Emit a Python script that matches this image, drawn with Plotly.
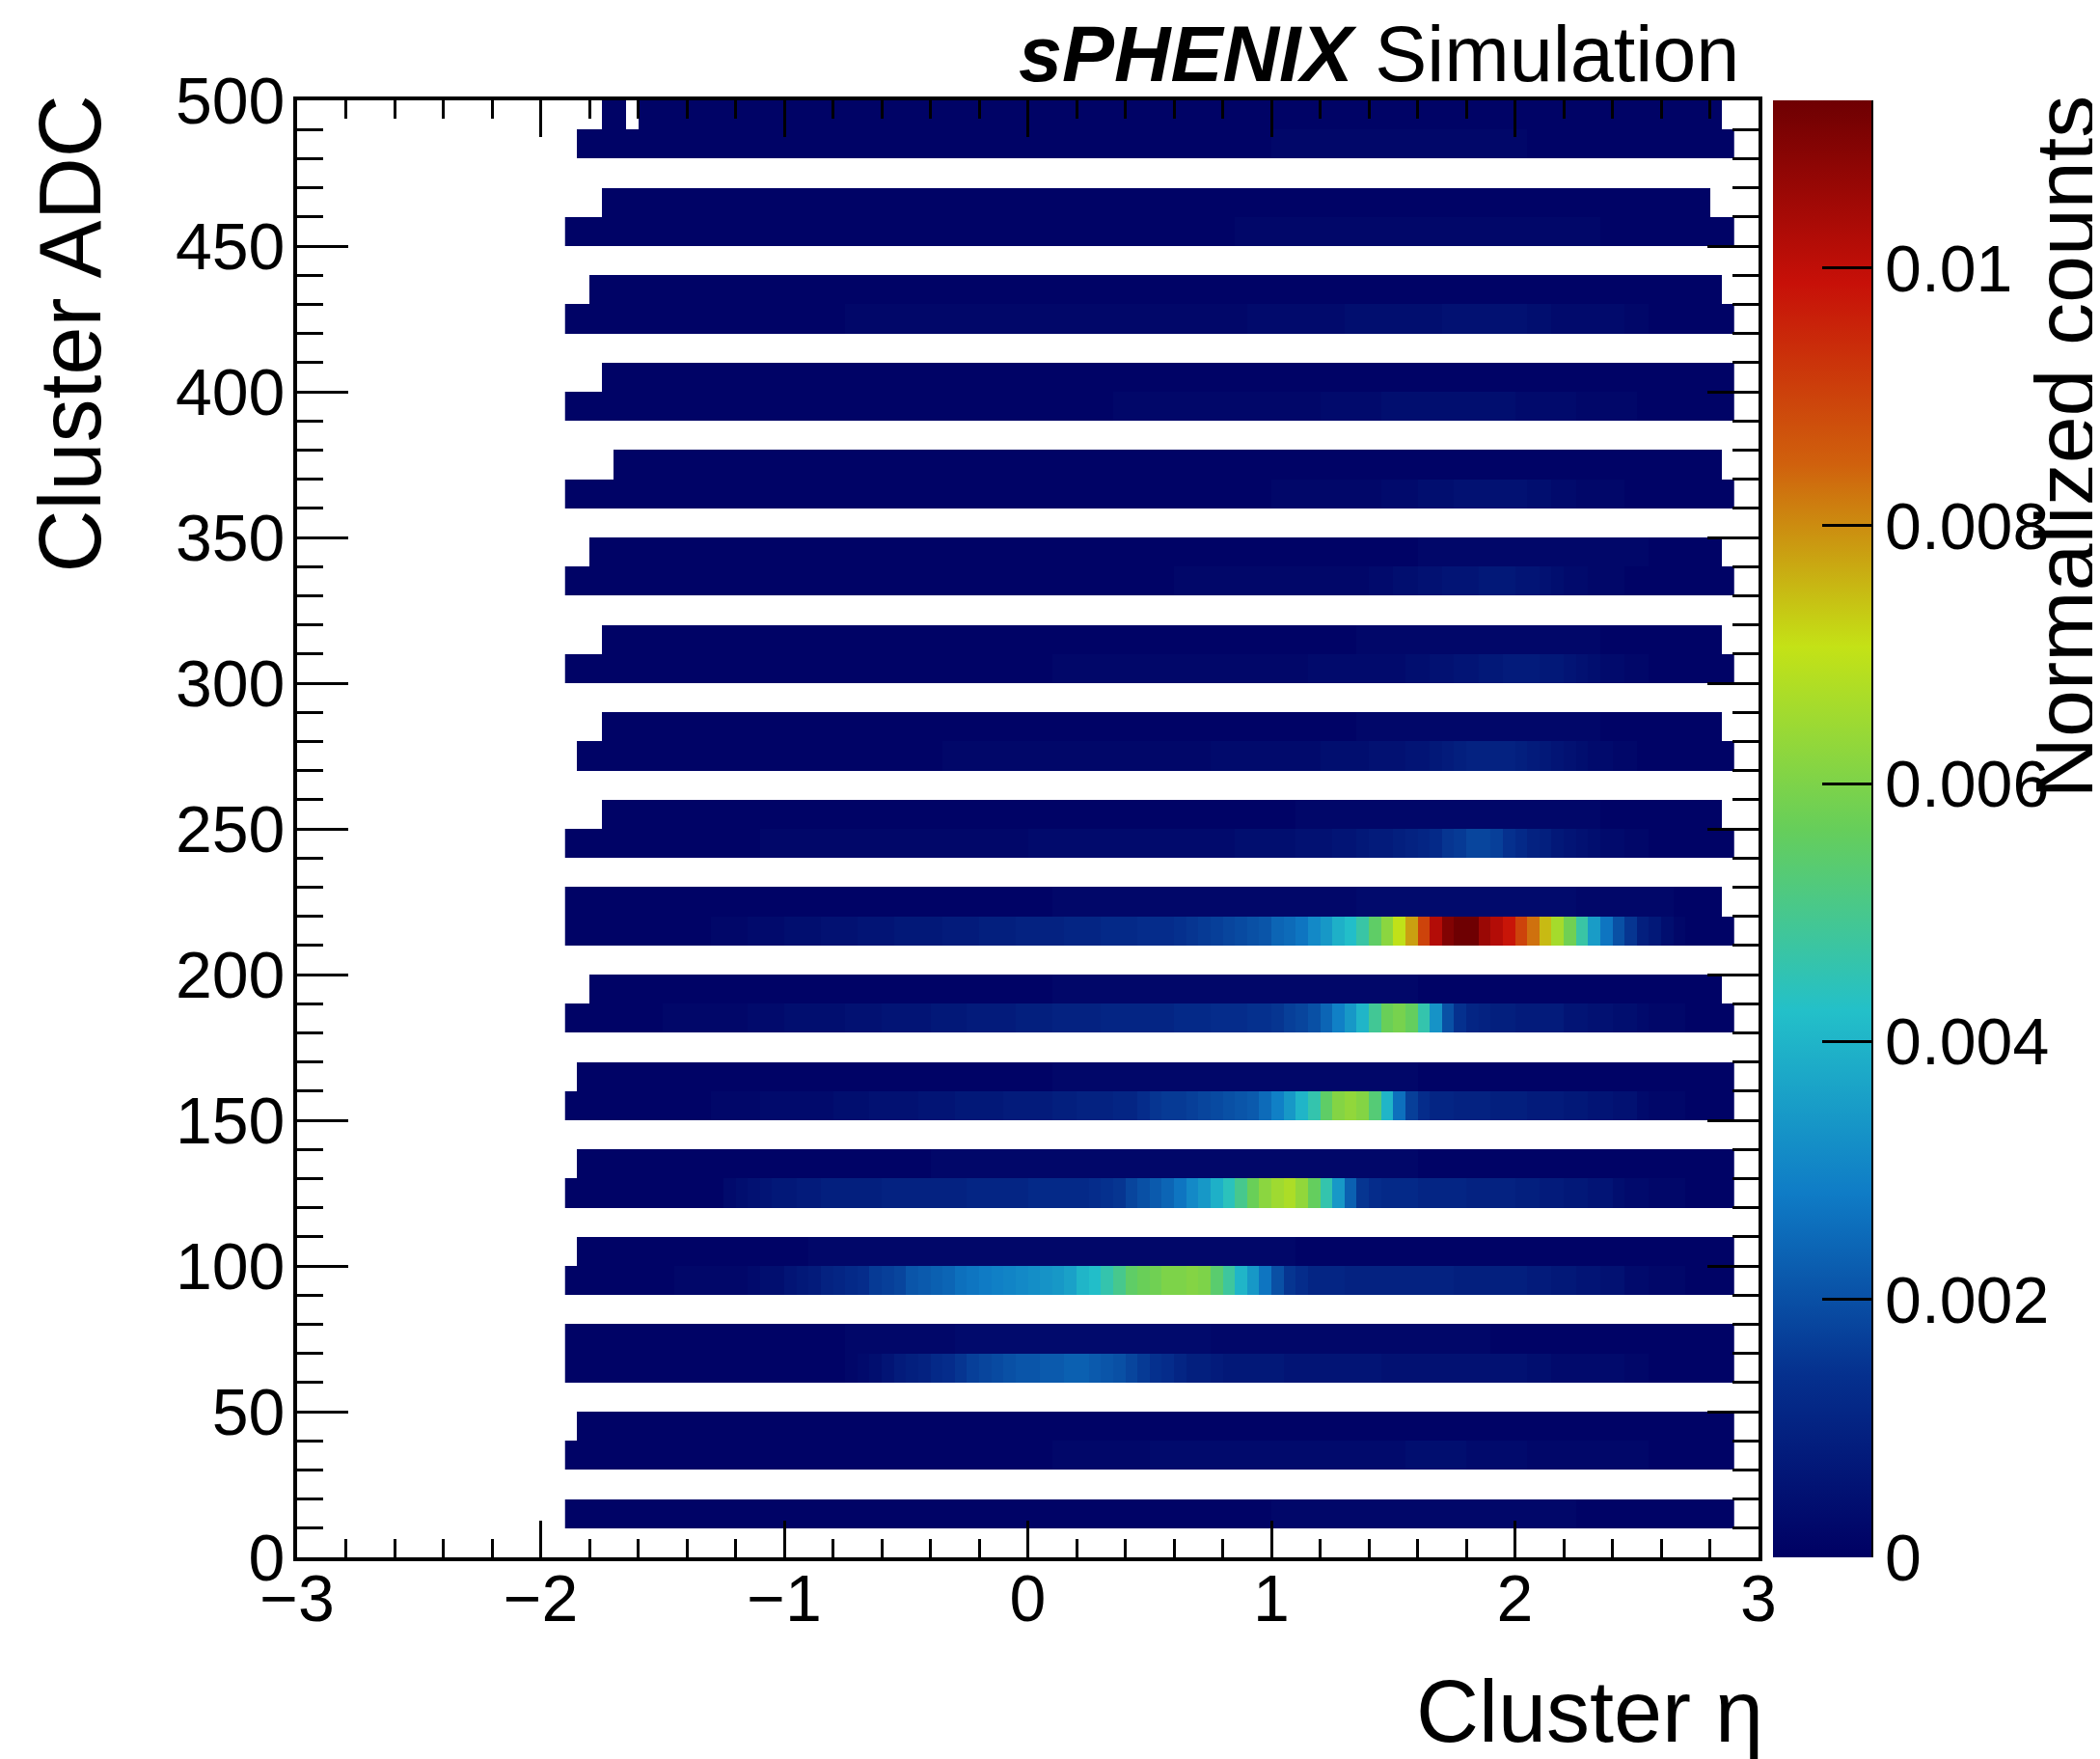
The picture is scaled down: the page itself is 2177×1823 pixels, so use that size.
import plotly.graph_objects as go

# page is rendered with an 8 px body margin: work in page pixels and shift into figure pixels
OFF = 8
PAGE_W, PAGE_H = 2177, 1823
W, H = PAGE_W - OFF, PAGE_H - OFF
L, R, T, B = 308 - OFF, 1823 - OFF, 104 - OFF, 1614 - OFF   # plot-area box in figure pixels

# ---------------- data ----------------
# eta bins: 96 bins of width 0.05 from -1.9 to 2.9 ; ADC bins: 50 bins of width 10 from 0 to 500
eta_lo_edge = -1.9
eta_width = 0.05
n_eta = 96
adc_width = 10
n_adc = 50
eta_centers = [round(eta_lo_edge + eta_width * (i + 0.5), 4) for i in range(n_eta)]
adc_centers = [adc_width * (j + 0.5) for j in range(n_adc)]

# bin contents in units of 1e-4 (normalized counts), index 0 = eta bin [-1.9,-1.85)
r10 = [1]*58 + [2]*25 + [1]*13
r30 = [1]*40 + [2]*8 + [3]*21 + [4]*5 + [3]*5 + [2]*10 + [1]*7
r40 = [1]*96
r60 = ([1]*23 + [2, 3, 4, 6, 8, 9, 10, 12, 13, 15, 17, 18, 19, 20, 21, 21, 22, 22, 23, 23, 22, 21, 20, 18, 16]
       + [14, 13, 11, 9, 9, 8] + [7]*5 + [6]*8 + [5]*12 + [4, 4, 3, 3, 3, 3, 3, 3, 2, 2] + [1]*7)
r70 = [1]*23 + [2]*9 + [3]*21 + [2]*23 + [1]*20
r90 = ([1]*9 + [2]*6 + [3] + [4, 4] + [6, 7, 8] + [10, 11, 12, 13] + [16, 17, 18] + [21, 22, 23, 24]
       + [26, 27, 28, 29] + [30, 31, 32, 33, 34, 36] + [40, 42] + [46, 50] + [55, 57]
       + [58, 60, 60, 61, 60, 54, 48, 40, 34, 27, 20, 15, 13]
       + [11, 11, 11, 10, 10, 10, 10, 10, 10, 10, 10, 10, 9, 9, 9, 9, 9, 9]
       + [8, 8, 7, 7, 6, 6, 5, 5] + [3, 3, 2, 2, 2, 1, 1, 1, 1])
r100 = [1]*20 + [2]*40 + [1]*36
r120 = ([1]*13 + [3, 4, 5] + [6, 7, 7, 8, 8] + [9, 9, 9, 9, 9, 10, 10, 10, 10, 10]
        + [10, 10, 11, 11, 11, 11, 11, 12, 12, 12, 12, 12] + [13, 14, 15] + [18, 20]
        + [22, 24, 27, 31, 34, 39, 44, 50, 57, 62, 65, 67, 63, 56, 46, 34, 23, 15, 13]
        + [12, 12, 12, 11, 11, 11, 11, 10, 10, 10, 10] + [9, 9, 8, 8, 7, 7, 6, 6]
        + [4, 3, 3, 2, 2, 2, 1, 1, 1, 1])
r130 = [1]*30 + [2]*40 + [1]*26
r150 = ([1]*12 + [2, 2, 2, 2, 3, 3, 3, 3, 3, 3] + [4, 4, 4, 5, 5, 5, 5, 6, 6, 6] + [7, 7, 7, 7, 8, 8, 8, 8]
        + [9, 9, 10, 10, 10, 11, 11] + [13]
        + [15, 16, 16, 17, 18, 19, 20, 21]
        + [22, 25, 29, 34, 40, 46, 55, 61, 63, 61, 53, 40, 26, 17, 13]
        + [11, 11, 10, 10, 10] + [9, 9, 9, 8, 8, 8] + [7, 7, 6, 6, 5, 5] + [3, 2, 2, 2, 1, 1, 1, 1])
r160 = [1]*40 + [2]*30 + [1]*26
r180 = ([1]*8 + [2]*7 + [3, 3, 3, 4, 4, 4, 4, 4] + [5, 5, 5, 6, 6, 6, 6] + [7, 7, 7, 8, 8, 8, 8]
        + [9, 9, 9, 10, 10, 10, 10, 11, 11, 11, 11]
        + [11, 11, 12, 12, 12, 13, 13, 13, 14, 14]
        + [15, 17, 18, 20, 24, 29, 34, 40, 49, 57, 59, 56, 46, 33, 20, 14]
        + [11, 10] + [9, 9, 8, 8, 8, 8] + [6, 6, 5, 5, 4, 4] + [3, 2, 2, 2, 1, 1, 1, 1])
r190 = [1]*40 + [2]*30 + [1]*26
r210 = ([1]*12 + [2, 2, 2, 3, 3, 3, 4, 4, 4] + [5, 5, 5, 6, 6, 6, 7, 7, 7, 7]
        + [8, 8, 8, 9, 9, 9, 10, 10, 10, 10] + [11, 11, 11, 12, 12, 12, 13]
        + [13, 13, 14, 15, 16, 17, 18, 19, 20, 21] + [24, 25, 27, 31, 34, 39, 42, 47, 55, 62]
        + [70, 78, 90, 102, 110, 113, 113, 106, 102, 98, 90, 83, 75, 66, 58, 47, 35, 27, 20, 15, 9, 7, 4, 2]
        + [1]*4)
r220 = [1]*40 + [2]*25 + [3]*18 + [2]*8 + [1]*5
r240 = ([1]*16 + [2]*22 + [3]*10
        + [3, 3, 3, 3, 3, 3, 3, 4, 4, 4, 4, 4, 5] + [5, 5, 6, 6, 7, 8, 8] + [9, 10, 11, 12]
        + [15, 16, 18, 18, 17] + [14, 12, 10, 9, 7] + [6, 5, 4, 3, 3, 2, 2] + [1]*7)
r250 = [1]*60 + [2]*25 + [1]*11
r270 = ([1]*31 + [2]*17
        + [2, 2, 2, 2, 2, 3, 3, 3, 3, 3, 3, 3, 3] + [3, 4, 4, 4, 4, 5] + [5, 5, 6, 6, 7, 8]
        + [9, 10, 10, 10, 10, 9, 8] + [7, 6, 5, 4, 3, 3, 2, 2, 1] + [1]*7)
r280 = [1]*65 + [2]*20 + [1]*11
r300 = [1]*40 + [2]*21 + [3]*8 + [4, 4, 5, 5, 6, 6, 7] + [7, 8, 8, 8, 7, 7] + [6, 5, 4, 3, 3, 2, 2] + [1]*7
r310 = [1]*65 + [2]*20 + [1]*11
r330 = [1]*50 + [2]*16 + [3, 3, 4, 4, 5, 5, 6] + [6, 6, 7, 7, 7, 6, 6, 5, 4, 3, 3] + [2, 2, 2, 1, 1] + [1]*7
r340 = [1]*70 + [2]*19 + [1]*7
r360 = [1]*58 + [2]*9 + [3, 3, 3, 4, 4, 4, 5] + [5, 5, 5, 5, 5, 4, 4, 3, 3] + [2, 2, 2, 2, 1, 1] + [1]*7
r370 = [1]*96
r390 = [1]*45 + [2]*16 + [2, 3, 3, 3, 3, 3] + [4]*11 + [3]*5 + [2, 2, 2, 2, 2, 1, 1] + [1]*6
r400 = [1]*96
r420 = [1]*23 + [2]*33 + [3]*8 + [4]*8 + [5]*7 + [4, 4] + [3]*6 + [2, 2] + [1]*7
r430 = [1]*96
r450 = [1]*55 + [2]*30 + [1]*11
r460 = [1]*96
r480 = [1]*58 + [2]*21 + [1]*17
r490 = [1]*96

rows = {10: r10, 30: r30, 40: r40, 60: r60, 70: r70, 90: r90, 100: r100, 120: r120, 130: r130,
        150: r150, 160: r160, 180: r180, 190: r190, 210: r210, 220: r220, 240: r240, 250: r250,
        270: r270, 280: r280, 300: r300, 310: r310, 330: r330, 340: r340, 360: r360, 370: r370,
        390: r390, 400: r400, 420: r420, 430: r430, 450: r450, 460: r460, 480: r480, 490: r490}

# first / last filled eta bin index of each ADC row
extent = {10: (0, 95), 30: (0, 95), 40: (1, 95), 60: (0, 95), 70: (0, 95), 90: (0, 95), 100: (1, 95),
          120: (0, 95), 130: (1, 95), 150: (0, 95), 160: (1, 95), 180: (0, 95), 190: (2, 94),
          210: (0, 95), 220: (0, 94), 240: (0, 95), 250: (3, 94), 270: (1, 95), 280: (3, 94),
          300: (0, 95), 310: (3, 94), 330: (0, 95), 340: (2, 94), 360: (0, 95), 370: (4, 94),
          390: (0, 95), 400: (3, 95), 420: (0, 95), 430: (2, 94), 450: (0, 95), 460: (3, 93),
          480: (1, 95), 490: (3, 94)}
empty_bins = {490: [5]}

z_unit = 1e-4
z = [[None] * n_eta for _ in range(n_adc)]
for adc, vals in rows.items():
    assert len(vals) == n_eta, (adc, len(vals))
    j = adc // adc_width
    lo, hi = extent[adc]
    for i in range(lo, hi + 1):
        if i in empty_bins.get(adc, []):
            continue
        z[j][i] = vals[i] * z_unit

z_max = 0.0113
cbar_ticks = [0, 0.002, 0.004, 0.006, 0.008, 0.01]
cbar_text = ["0", "0.002", "0.004", "0.006", "0.008", "0.01"]

# ROOT kRainBow palette
stops = [0.0, 0.125, 0.25, 0.375, 0.5, 0.625, 0.75, 0.875, 1.0]
red = [0, 5, 15, 35, 102, 196, 208, 199, 110]
green = [0, 48, 124, 192, 206, 226, 97, 16, 0]
blue = [99, 142, 198, 201, 90, 22, 13, 8, 2]
colorscale = [[s, f"rgb({r},{g},{b})"] for s, r, g, b in zip(stops, red, green, blue)]

# ---------------- figure ----------------
def px_x(page_x):
    return (page_x - OFF - L) / (R - L)

def px_y(page_y):
    return (B - (page_y - OFF)) / (B - T)

FONT = "Liberation Sans, Arial, Helvetica, sans-serif"
TICKF = 68

fig = go.Figure()
fig.add_trace(go.Heatmap(
    x=eta_centers, y=adc_centers, z=z, colorscale=colorscale, zmin=0, zmax=z_max,
    zsmooth=False, hoverongaps=False,
    colorbar=dict(x=px_x(1838), xanchor="left", xpad=0, ypad=0, y=0, yanchor="bottom",
                  len=1, lenmode="fraction", thickness=102, thicknessmode="pixels",
                  outlinewidth=0, ticks="inside", ticklen=51, tickwidth=3, tickcolor="black",
                  tickvals=cbar_ticks, ticktext=cbar_text,
                  tickfont=dict(size=TICKF, color="black", family=FONT)),
))
fig.add_trace(go.Scatter(x=[None], y=[None], xaxis="x2", yaxis="y2", showlegend=False,
                         hoverinfo="skip", mode="markers"))

xcommon = dict(range=[-3, 3], tick0=0, dtick=1, ticks="inside", ticklen=38, tickwidth=3,
               tickcolor="black", showline=True, linewidth=4, linecolor="black",
               showgrid=False, zeroline=False,
               minor=dict(ticks="inside", ticklen=19, tickwidth=3, tickcolor="black",
                          dtick=0.2, showgrid=False))
ycommon = dict(range=[0, 500], tick0=0, dtick=50, ticks="inside", ticklen=53, tickwidth=3,
               tickcolor="black", showline=True, linewidth=4, linecolor="black",
               showgrid=False, zeroline=False,
               minor=dict(ticks="inside", ticklen=27, tickwidth=3, tickcolor="black",
                          dtick=10, showgrid=False))

fig.update_layout(
    width=W, height=H,
    margin=dict(l=L, r=W - R, t=T, b=H - B, autoexpand=False),
    paper_bgcolor="white", plot_bgcolor="white",
    font=dict(family=FONT, color="black", size=TICKF),
    showlegend=False,
    xaxis=dict(**xcommon, tickfont=dict(size=TICKF), ticklabelstandoff=-20),
    yaxis=dict(**ycommon, tickfont=dict(size=TICKF), ticklabelstandoff=-5),
    xaxis2=dict(**xcommon, overlaying="x", side="top", anchor="y", showticklabels=False),
    yaxis2=dict(**ycommon, overlaying="y", side="right", anchor="x", showticklabels=False),
    shapes=[dict(type="line", xref="paper", yref="paper", x0=px_x(1940), x1=px_x(1940),
                 y0=0, y1=1, line=dict(color="black", width=4))],
    annotations=[
        dict(text="Cluster η", xref="paper", yref="paper", x=px_x(1830), y=px_y(1774),
             xanchor="right", yanchor="middle", showarrow=False, font=dict(size=90)),
        dict(text="Cluster ADC", xref="paper", yref="paper", x=px_x(72), y=px_y(97),
             xanchor="center", yanchor="top", textangle=-90, showarrow=False, font=dict(size=90)),
        dict(text="<b><i>sPHENIX</i></b> Simulation", xref="paper", yref="paper",
             x=px_x(1805), y=px_y(56), xanchor="right", yanchor="middle", showarrow=False,
             font=dict(size=81)),
        dict(text="Normalized counts", xref="paper", yref="paper", x=px_x(2140), y=px_y(97),
             xanchor="center", yanchor="top", textangle=-90, showarrow=False, font=dict(size=88)),
    ],
)

fig.write_html("out.html")
